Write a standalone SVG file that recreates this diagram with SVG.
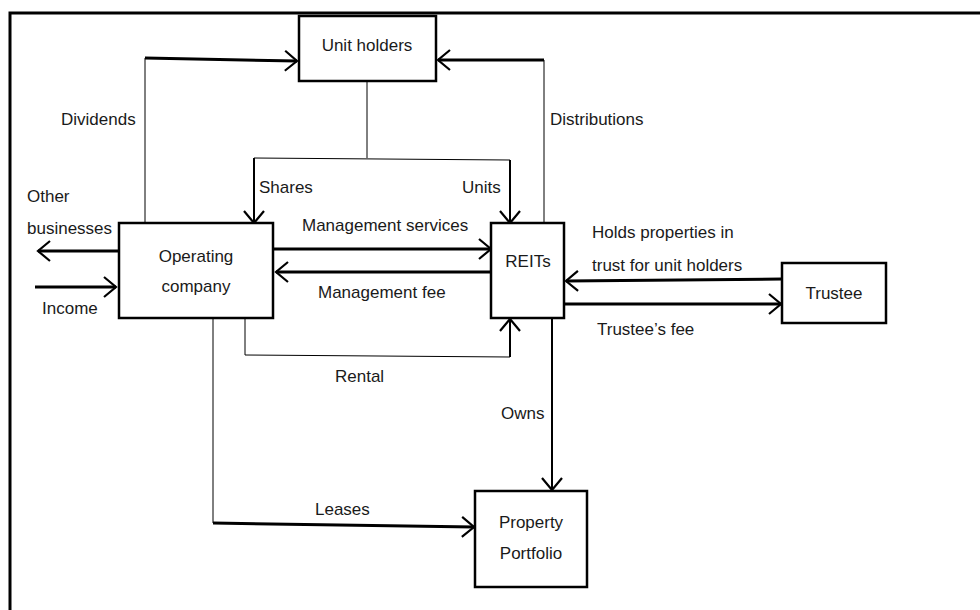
<svg xmlns="http://www.w3.org/2000/svg" width="980" height="610" viewBox="0 0 980 610">
<style>
  .box { fill: #fff; stroke: #000; stroke-width: 2.5; }
  .t { font-family: "Liberation Sans", Arial, sans-serif; font-size: 17px; fill: #1a1a1a; }
  .c { text-anchor: middle; }
  .thin { fill: none; stroke: #000; stroke-width: 1; }
  .mid { fill: none; stroke: #000; stroke-width: 2; }
  .thick { fill: none; stroke: #000; stroke-width: 3; }
</style>
<defs>
  <marker id="ah" markerUnits="userSpaceOnUse" markerWidth="16" markerHeight="24" refX="14" refY="12" orient="auto">
    <path d="M2,2 L14,12 L2,22" fill="none" stroke="#000" stroke-width="2.2"/>
  </marker>
</defs>
<rect width="980" height="610" fill="#fff"/>
<g id="frame">
  <path d="M10,610 V13 H980" fill="none" stroke="#000" stroke-width="3"/>
</g>
<g id="connectors">
  <!-- Dividends -->
  <path class="thin" d="M145,223 V58"/>
  <path class="thick" d="M145,58 L297,61" marker-end="url(#ah)"/>
  <!-- Distributions -->
  <path class="thin" d="M544,223 V60"/>
  <path class="thick" d="M544,60 H438" marker-end="url(#ah)"/>
  <!-- Unit holders split -->
  <path class="thin" d="M367,81 V158"/>
  <path class="thin" d="M254,158 L510,160"/>
  <path class="mid" d="M254,158 V223" marker-end="url(#ah)"/>
  <path class="mid" d="M510,160 V223" marker-end="url(#ah)"/>
  <!-- Other businesses / Income -->
  <path class="thick" d="M119,251 H38" marker-end="url(#ah)"/>
  <path class="thick" d="M35,287 H116" marker-end="url(#ah)"/>
  <!-- Management services / fee -->
  <path class="thick" d="M273,249 H491" marker-end="url(#ah)"/>
  <path class="thick" d="M492,272 H276" marker-end="url(#ah)"/>
  <!-- Rental -->
  <path class="thin" d="M245,318 V355 L510,357"/>
  <path class="mid" d="M510,357 V319" marker-end="url(#ah)"/>
  <!-- Trustee -->
  <path class="thick" d="M782,279 L566,281" marker-end="url(#ah)"/>
  <path class="thick" d="M564,304 H781" marker-end="url(#ah)"/>
  <!-- Owns -->
  <path class="mid" d="M552,318 V490" marker-end="url(#ah)"/>
  <!-- Leases -->
  <path class="thin" d="M213,318 V523"/>
  <path class="thick" d="M213,523 L474,527" marker-end="url(#ah)"/>
</g>
<g id="unit-holders">
  <rect class="box" x="299" y="16" width="137" height="65"/>
  <text class="t c" x="367" y="51">Unit holders</text>
</g>
<g id="operating-company">
  <rect class="box" x="119" y="223" width="154" height="95"/>
  <text class="t c" x="196" y="262">Operating</text>
  <text class="t c" x="196" y="292">company</text>
</g>
<g id="reits">
  <rect class="box" x="491" y="223" width="73" height="95"/>
  <text class="t c" x="528" y="267">REITs</text>
</g>
<g id="trustee">
  <rect class="box" x="782" y="263" width="104" height="60"/>
  <text class="t c" x="834" y="299">Trustee</text>
</g>
<g id="property-portfolio">
  <rect class="box" x="475" y="491" width="112" height="96"/>
  <text class="t c" x="531" y="528">Property</text>
  <text class="t c" x="531" y="559">Portfolio</text>
</g>
<g id="labels">
  <text class="t" x="61" y="125">Dividends</text>
  <text class="t" x="550" y="125">Distributions</text>
  <text class="t" x="259" y="193">Shares</text>
  <text class="t" x="462" y="193">Units</text>
  <text class="t" x="27" y="202">Other</text>
  <text class="t" x="27" y="234">businesses</text>
  <text class="t" x="42" y="314">Income</text>
  <text class="t" x="302" y="231">Management services</text>
  <text class="t" x="318" y="298">Management fee</text>
  <text class="t" x="335" y="382">Rental</text>
  <text class="t" x="592" y="238">Holds properties in</text>
  <text class="t" x="592" y="271">trust for unit holders</text>
  <text class="t" x="597" y="335">Trustee’s fee</text>
  <text class="t" x="501" y="419">Owns</text>
  <text class="t" x="315" y="515">Leases</text>
</g>
</svg>
